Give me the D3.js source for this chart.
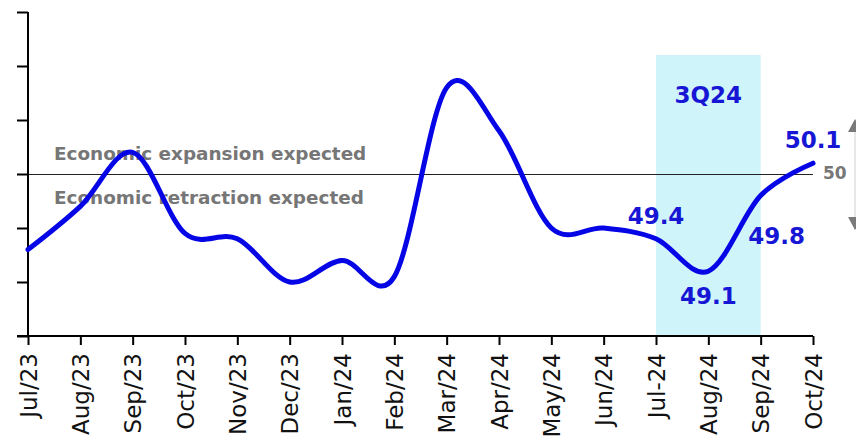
<!DOCTYPE html>
<html>
<head>
<meta charset="utf-8">
<script src="https://cdn.jsdelivr.net/npm/d3@7"></script>
<style>
  html, body { margin: 0; padding: 0; background: #fff; }
  svg { display: block; font-family: "DejaVu Sans", Verdana, sans-serif; }
</style>
</head>
<body>
<svg id="chart" width="856" height="442"></svg>
<script>
// Monthly index readings (threshold 50 separates expansion from retraction)
const months = ["Jul/23", "Aug/23", "Sep/23", "Oct/23", "Nov/23", "Dec/23", "Jan/24",
                "Feb/24", "Mar/24", "Apr/24", "May/24", "Jun/24", "Jul-24", "Aug/24",
                "Sep/24", "Oct/24"];
const values = [49.3, 49.7, 50.2, 49.45, 49.4, 49.0, 49.2,
                49.05, 50.8, 50.4, 49.5, 49.5, 49.4, 49.1,
                49.8, 50.1];
const yTicks = [48.5, 49.0, 49.5, 50.0, 50.5, 51.0, 51.5];
const threshold = 50;
const quarterSpan = ["Jul-24", "Sep/24"];
const quarterLabel = "3Q24";
const labelledMonths = ["Jul-24", "Aug/24", "Sep/24", "Oct/24"];
const upperNote = "Economic expansion expected";
const lowerNote = "Economic retraction expected";

const svg = d3.select("#chart");
const plotLeft = 28, plotRight = 813, plotTop = 12, plotBottom = 336;

const x = d3.scalePoint().domain(months).range([plotLeft, plotRight]);
const y = d3.scaleLinear().domain([48.5, 51.5]).range([plotBottom, plotTop]);

const lineBlue = "#0505e6";
const labelBlue = "#1616d4";
const noteGray = "#767676";

// Highlighted quarter band
svg.append("rect")
  .attr("x", x(quarterSpan[0]))
  .attr("y", 55)
  .attr("width", x(quarterSpan[1]) - x(quarterSpan[0]))
  .attr("height", plotBottom - 55)
  .attr("fill", "#cff4fa");

svg.append("text")
  .attr("x", x("Aug/24"))
  .attr("y", 103)
  .attr("text-anchor", "middle")
  .attr("font-size", 23)
  .attr("font-weight", "bold")
  .attr("fill", labelBlue)
  .text(quarterLabel);

// Threshold line
svg.append("line")
  .attr("x1", plotLeft).attr("x2", plotRight)
  .attr("y1", y(threshold) + 0.5).attr("y2", y(threshold) + 0.5)
  .attr("stroke", "#222").attr("stroke-width", 1)
  .attr("shape-rendering", "crispEdges");

svg.append("text")
  .attr("x", plotRight + 10)
  .attr("y", y(threshold) + 5)
  .attr("font-size", 17)
  .attr("font-weight", "bold")
  .attr("fill", noteGray)
  .text(String(threshold));

// Notes above / below the threshold
svg.append("text")
  .attr("x", 54).attr("y", 160)
  .attr("font-size", 18.4).attr("font-weight", "bold")
  .attr("fill", noteGray)
  .text(upperNote);
svg.append("text")
  .attr("x", 54).attr("y", 204)
  .attr("font-size", 18.4).attr("font-weight", "bold")
  .attr("fill", noteGray)
  .text(lowerNote);

// Y axis (ticks only, no labels)
const yAxis = d3.axisLeft(y).tickValues(yTicks).tickSize(11).tickFormat("");
const gy = svg.append("g").attr("transform", `translate(${plotLeft},0)`).call(yAxis);
gy.select(".domain").attr("stroke", "#000").attr("stroke-width", 2).attr("d", `M0,${plotTop}V${plotBottom}`);
gy.selectAll(".tick line").attr("stroke", "#000").attr("stroke-width", 2);

// X axis
const xAxis = d3.axisBottom(x).tickSize(9).tickSizeOuter(0);
const gx = svg.append("g").attr("transform", `translate(0,${plotBottom})`).call(xAxis);
gx.select(".domain").attr("stroke", "#000").attr("stroke-width", 2).attr("d", `M${plotLeft - 11},0H${plotRight}`);
gx.selectAll(".tick line").attr("stroke", "#000").attr("stroke-width", 2);
gx.selectAll(".tick text")
  .attr("transform", "rotate(-90)")
  .attr("text-anchor", "end")
  .attr("x", -17)
  .attr("y", 0)
  .attr("dy", "0.36em")
  .attr("font-family", "DejaVu Sans, Verdana, sans-serif")
  .attr("font-size", 23)
  .attr("fill", "#111");

// Series line
const line = d3.line()
  .x((d, i) => x(months[i]))
  .y(d => y(d))
  .curve(d3.curveCardinal.tension(0));

svg.append("path")
  .datum(values)
  .attr("d", line)
  .attr("fill", "none")
  .attr("stroke", lineBlue)
  .attr("stroke-width", 5)
  .attr("stroke-linecap", "round")
  .attr("stroke-linejoin", "round");

// Value labels for the latest months
const labelOffsets = {
  "Jul-24": [0, -15],
  "Aug/24": [0, 33],
  "Sep/24": [16, 48],
  "Oct/24": [0, -15]
};
labelledMonths.forEach(m => {
  const v = values[months.indexOf(m)];
  const [dx, dy] = labelOffsets[m];
  svg.append("text")
    .attr("x", x(m) + dx)
    .attr("y", y(v) + dy)
    .attr("text-anchor", "middle")
    .attr("font-size", 23)
    .attr("font-weight", "bold")
    .attr("fill", labelBlue)
    .text(v.toFixed(1));
});

// Direction marker at the right edge
const ax = 855;
svg.append("line")
  .attr("x1", ax).attr("x2", ax)
  .attr("y1", 131).attr("y2", 218)
  .attr("stroke", "#cfcfcf").attr("stroke-width", 1);
svg.append("path")
  .attr("d", `M${ax},119L${ax + 7},132L${ax - 7},132Z`)
  .attr("fill", "#7a7a7a");
svg.append("path")
  .attr("d", `M${ax},230L${ax + 7},217L${ax - 7},217Z`)
  .attr("fill", "#7a7a7a");
</script>
</body>
</html>
